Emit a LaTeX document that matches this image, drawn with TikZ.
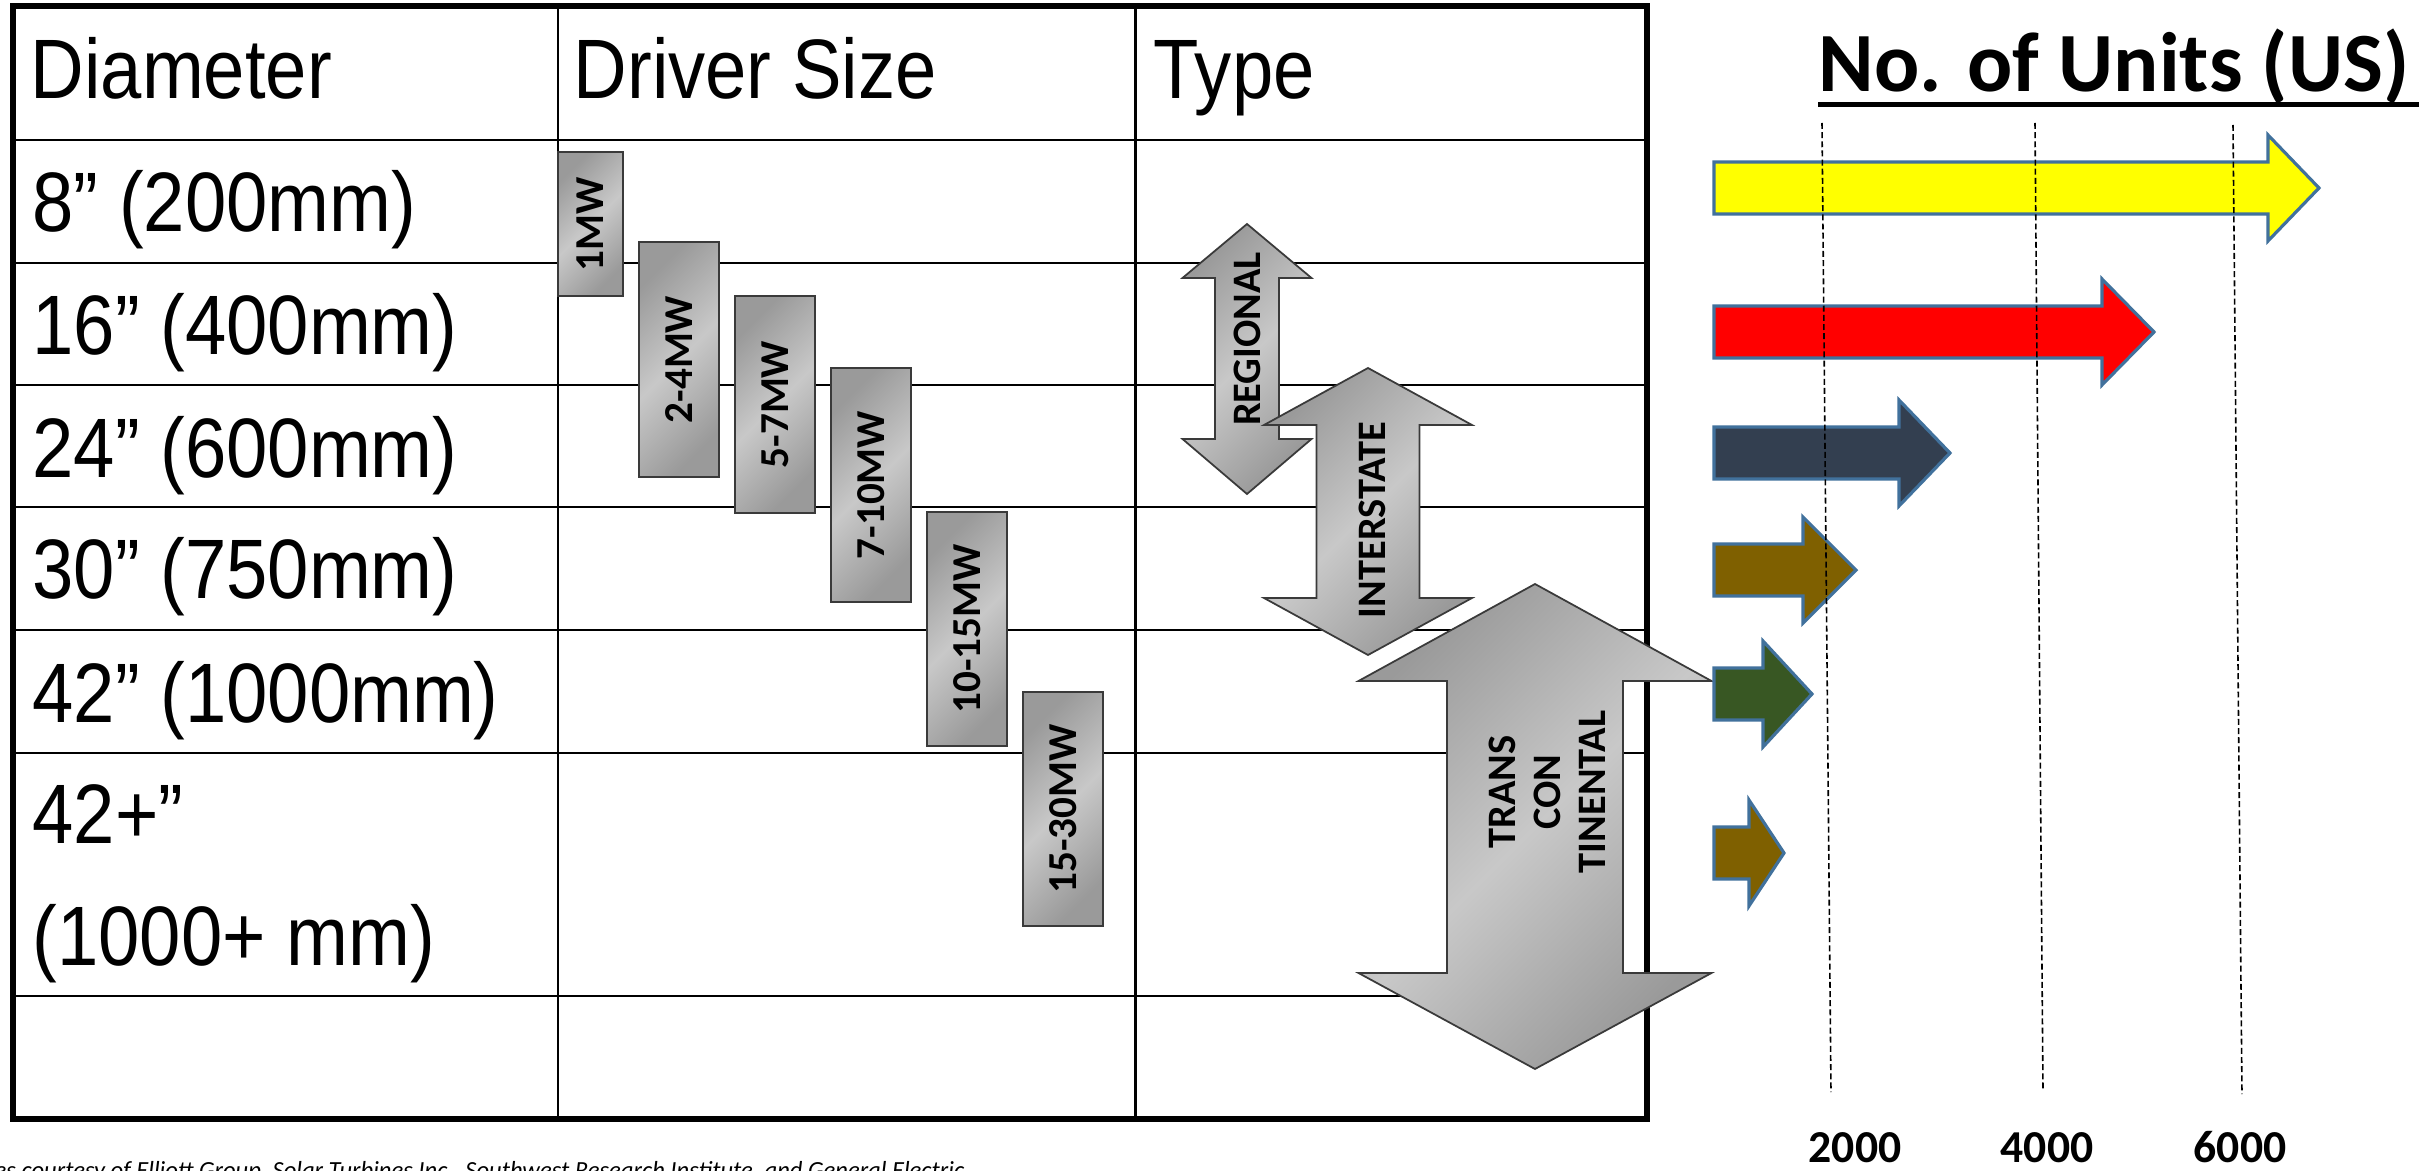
\documentclass[tikz,border=0pt]{standalone}
\usepackage{fontspec}
\setmainfont{Liberation Sans}
\newfontfamily\tabfont[FakeStretch=0.88]{Liberation Sans}
\newfontfamily\calfont{Carlito}
\usetikzlibrary{calc}

\definecolor{boxdark}{HTML}{9A9A9A}
\definecolor{boxlight}{HTML}{C8C8C8}
\definecolor{shapeline}{HTML}{3A3A3A}
\definecolor{unitline}{HTML}{41719C}
\definecolor{uyellow}{HTML}{FFFF00}
\definecolor{ured}{HTML}{FF0000}
\definecolor{unavy}{HTML}{333F50}
\definecolor{ubrown}{HTML}{7F6000}
\definecolor{ugreen}{HTML}{385723}

\tikzset{
  frameline/.style={line width=1.7pt},
  rowline/.style={line width=0.85pt},
  celltext/.style={anchor=base west, inner sep=0pt, font=\tabfont\fontsize{24}{24}\selectfont},
  mwbox/.style={draw=shapeline, line width=0.5pt, rotate=90, inner sep=0pt,
    left color=boxdark, right color=boxdark, middle color=boxlight, shading angle=45,
    font=\calfont\bfseries\fontsize{11.7}{12}\selectfont},
  duct/.style={draw=shapeline, line width=0.5pt,
    left color=boxdark, right color=boxdark, middle color=boxlight, shading angle=45},
  ductlabel/.style={rotate=90, inner sep=0pt, align=center,
    font=\calfont\bfseries\fontsize{11.5}{12.8}\selectfont},
  unitarrow/.style={draw=unitline, line width=0.9pt},
  gridline/.style={line width=0.45pt, dash pattern=on 1.7pt off 0.9pt},
  ticklabel/.style={anchor=base, inner sep=0pt, font=\calfont\bfseries\fontsize{13}{14}\selectfont}
}

\begin{document}
\begin{tikzpicture}[x=0.1mm, y=-0.1mm]
	\useasboundingbox (0,0) rectangle (2430,1171);
	\fill[white] (0,0) rectangle (2430,1171);
	\clip (0,0) rectangle (2430,1171);

	\foreach \y in {140,263,385,507,630,753,996}
		\draw[rowline] (13,\y) -- (1647,\y);
	\draw[rowline] (558,6) -- (558,1119);
	\draw[rowline] (1135,6) -- (1135,1119);
	\draw[frameline] (13,6) rectangle (1647,1119);

	\node[celltext] (diam) at (30,99) {Diameter};
	\node[celltext] (driver) at (573,99) {Driver Size};
	\node[celltext] (type) at (1153,99) {Type};
	\node[celltext] (d8) at (32,232) {8” (200mm)};
	\node[celltext] (d16) at (32,355) {16” (400mm)};
	\node[celltext] (d24) at (32,477) {24” (600mm)};
	\node[celltext] (d30) at (32,599) {30” (750mm)};
	\node[celltext] (d42) at (32,722) {42” (1000mm)};
	\node[celltext] (d42p) at (32,843) {42+”};
	\node[celltext] (d42mm) at (32,965) {(1000+ mm)};

	\node[mwbox, minimum width=14.4mm, minimum height=6.5mm] (mw1) at (590.5,224) {1MW};
	\node[mwbox, minimum width=23.5mm, minimum height=8mm] (mw2) at (679,359.5) {2-4MW};
	\node[mwbox, minimum width=21.7mm, minimum height=8mm] (mw5) at (775,404.5) {5-7MW};
	\node[mwbox, minimum width=23.4mm, minimum height=8mm] (mw7) at (871,485) {7-10MW};
	\node[mwbox, minimum width=23.4mm, minimum height=8mm] (mw10) at (967,629) {10-15MW};
	\node[mwbox, minimum width=23.4mm, minimum height=8mm] (mw15) at (1063,809) {15-30MW};

	\path[duct] (1247,224) -- (1311.5,278) -- (1279,278) -- (1279,439) -- (1311.5,439) -- (1247,494)
		-- (1182.5,439) -- (1215,439) -- (1215,278) -- (1182.5,278) -- cycle;
	\node[ductlabel] (regional) at (1247,339) {REGIONAL};
	\path[duct] (1368,368) -- (1472,425) -- (1419.5,425) -- (1419.5,598) -- (1472,598) -- (1368,655)
		-- (1264,598) -- (1316.5,598) -- (1316.5,425) -- (1264,425) -- cycle;
	\node[ductlabel] (interstate) at (1372,520) {INTERSTATE};
	\path[duct] (1535,584) -- (1711.5,681) -- (1623,681) -- (1623,973) -- (1711.5,973) -- (1535,1069)
		-- (1358.5,973) -- (1447,973) -- (1447,681) -- (1358.5,681) -- cycle;
	\node[ductlabel] (trans) at (1547,792) {TRANS\\CON\\TINENTAL};

	\node[anchor=base west, inner sep=0pt, font=\calfont\bfseries\fontsize{24}{28}\selectfont] (title) at (1818,92) {No. of Units (US)};
	\draw[line width=1.4pt] ([yshift=-3.6pt]title.base west) -- ([xshift=2.5pt, yshift=-3.6pt]title.base east);

	\foreach \c/\b/\t/\col in {188/2268/2319/uyellow, 332/2102/2154/ured, 453/1899/1950/unavy,
		570/1803/1856/ubrown, 694/1763/1812/ugreen, 853/1749/1784/ubrown}
		\draw[unitarrow, fill=\col] (1714,\c-26) -- (\b,\c-26) -- (\b,\c-53) -- (\t,\c)
			-- (\b,\c+53) -- (\b,\c+26) -- (1714,\c+26) -- cycle;

	\draw[gridline] (1822,123) -- (1831,1092);
	\draw[gridline] (2035,123) -- (2043,1090);
	\draw[gridline] (2233,125) -- (2242,1094);

	\node[ticklabel] (n2000) at (1855,1162) {2000};
	\node[ticklabel] (n4000) at (2047,1162) {4000};
	\node[ticklabel] (n6000) at (2240,1162) {6000};

	\node[anchor=base west, inner sep=0pt, font=\calfont\itshape\fontsize{7}{8}\selectfont] (credit) at (-6,1178)
		{es courtesy of Elliott Group, Solar Turbines Inc., Southwest Research Institute, and General Electric};
\end{tikzpicture}
\end{document}
